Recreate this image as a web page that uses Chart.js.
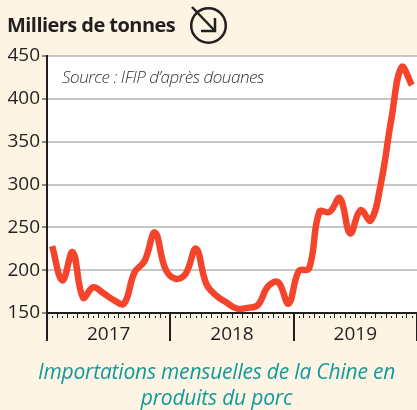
<!DOCTYPE html>
<html lang="fr">
<head>
<meta charset="utf-8">
<title>Importations mensuelles de la Chine en produits du porc</title>
<script src="https://cdn.jsdelivr.net/npm/chart.js@4"></script>
<style>
  html, body { margin: 0; padding: 0; background: #fdf4e3; overflow: hidden; }
  #wrap { position: relative; width: 417px; height: 410px; font-family: "Open Sans", sans-serif; }
  #graph { position: absolute; left: 0; top: 0; }
  #titre { position: absolute; left: 7px; top: 11px; font-size: 20px; font-weight: 700; color: #231f20; letter-spacing: -0.55px; }
  #source { position: absolute; left: 62px; top: 65px; font-size: 17px; font-weight: 300; font-style: italic; color: #333333; letter-spacing: -0.45px; }
  #legende { position: absolute; left: 0; width: 433px; top: 358px; text-align: center; font-size: 21px; line-height: 26px; font-style: italic; color: #119a9c; letter-spacing: -0.2px; }
  #picto { position: absolute; left: 188px; top: 6px; }
</style>
</head>
<body>
<div id="wrap">
  <canvas id="graph" width="417" height="410"></canvas>
  <div id="titre">Milliers de tonnes</div>
  <svg id="picto" width="42" height="42" viewBox="0 0 42 42" fill="none" stroke="#231f20" stroke-width="2.5">
    <circle cx="20.5" cy="19.5" r="17.3"/>
    <path d="M4 1 L27 25"/>
    <path d="M27 12 V25 H13"/>
  </svg>
  <div id="source">Source : IFIP d’après douanes</div>
  <div id="legende">Importations mensuelles de la Chine en<br>produits du porc</div>
</div>
<script>
var imports = [228, 188, 221, 168, 180, 173, 165, 161, 197, 211, 244, 202,
               190, 196, 225, 184, 170, 162, 155, 156, 159, 181, 186, 161,
               199, 202, 268, 268, 284, 243, 270, 258, 302, 376, 437, 416];
var yearLabels = ["2017", "2018", "2019"];
var yTicks = [150, 200, 250, 300, 350, 400, 450];

var points = imports.map(function (v, i) { return { x: i + 0.5, y: v }; });
var ink = "#231f20";

// long year separators and small half month dots under the axis
var yearTicks = {
  id: "yearTicks",
  afterDraw: function (chart) {
    var ctx = chart.ctx, sx = chart.scales.x, bottom = chart.chartArea.bottom;
    ctx.save();
    ctx.fillStyle = ink;
    for (var m = 0; m <= 36; m++) {
      var px = Math.round(sx.getPixelForValue(m));
      if (m % 12 === 0) ctx.fillRect(px - 1, bottom, 2, 28);
      if (m < 36) ctx.fillRect(Math.round(sx.getPixelForValue(m + 0.5)), bottom + 3, 1, 2);
    }
    ctx.restore();
  }
};

new Chart(document.getElementById("graph"), {
  type: "scatter",
  data: {
    datasets: [{
      data: points,
      showLine: true,
      borderColor: "#f4442c",
      borderWidth: 6.5,
      tension: 0.4,
      pointRadius: 0,
      borderCapStyle: "butt",
      borderJoinStyle: "round"
    }]
  },
  options: {
    responsive: false,
    animation: false,
    layout: { padding: { top: 56, bottom: 0, left: 0, right: 0 } },
    plugins: { legend: { display: false }, tooltip: { enabled: false } },
    scales: {
      x: {
        type: "linear",
        min: 0,
        max: 36,
        afterFit: function (s) { s.height = 97; s.paddingRight = 0; s.paddingLeft = 0; },
        border: { color: ink, width: 2 },
        grid: { drawOnChartArea: false, drawTicks: true, tickLength: 5, tickColor: ink, tickWidth: 1 },
        ticks: {
          stepSize: 1,
          autoSkip: false,
          maxRotation: 0,
          padding: 5,
          color: ink,
          font: { family: "Open Sans", size: 19 },
          callback: function (v) {
            return v % 12 === 6 ? yearLabels[(v - 6) / 12] : "";
          }
        }
      },
      y: {
        min: 150,
        max: 450,
        afterFit: function (s) { s.width = 47; },
        afterBuildTicks: function (s) { s.ticks = yTicks.map(function (v) { return { value: v }; }); },
        border: { color: ink, width: 2 },
        grid: {
          color: function (c) { return c.tick.value === 150 ? "rgba(0,0,0,0)" : "#c6c6c6"; },
          lineWidth: 2,
          tickLength: 5,
          tickColor: ink,
          tickWidth: 1
        },
        ticks: {
          padding: 2,
          color: ink,
          font: { family: "Open Sans", size: 19 }
        }
      }
    }
  },
  plugins: [
    { id: "plotBg", beforeDraw: function (chart) {
        var a = chart.chartArea;
        chart.ctx.save();
        chart.ctx.fillStyle = "#ffffff";
        chart.ctx.fillRect(a.left, a.top, a.right - a.left + 2, a.bottom - a.top);
        chart.ctx.restore();
    } },
    yearTicks
  ]
});
</script>
</body>
</html>
